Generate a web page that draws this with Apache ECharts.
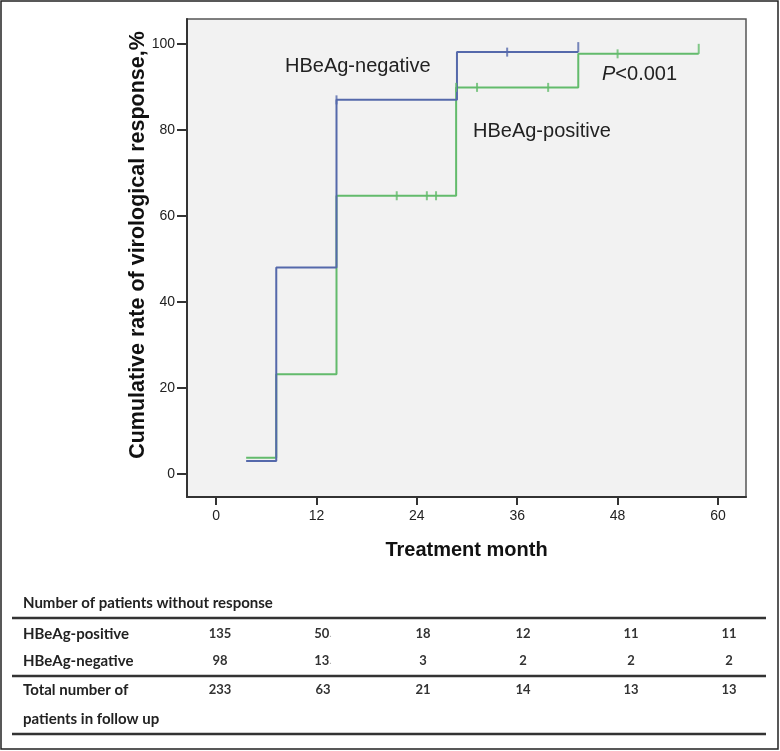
<!DOCTYPE html>
<html>
<head>
<meta charset="utf-8">
<script src="https://cdn.jsdelivr.net/npm/echarts@6/dist/echarts.min.js"></script>
<style>
  html, body { margin: 0; padding: 0; background: #ffffff; }
  #chart { width: 780px; height: 751px; }
</style>
</head>
<body>
<div id="chart"></div>
<script>
// ---- data ----
const xTickMonths = [0, 12, 24, 36, 48, 60];
const yTickValues = [0, 20, 40, 60, 80, 100];

// HBeAg-negative Kaplan–Meier steps
const negTimes = [3.6, 7.2, 14.4, 28.8, 43.3];
const negRates = [3.0, 48.0, 87.0, 98.1, 98.1];
const negCensorTimes = [14.4, 34.8];
const negCensorRates = [87.0, 98.1];
const negEndTimes = [43.3];
const negEndRates = [98.1];

// HBeAg-positive Kaplan–Meier steps
const posTimes = [3.6, 7.2, 14.4, 28.7, 43.3, 57.7];
const posRates = [3.8, 23.2, 64.7, 89.9, 97.7, 97.7];
const posCensorTimes = [21.6, 25.2, 26.3, 28.7, 31.2, 39.7, 48.0];
const posCensorRates = [64.7, 64.7, 64.7, 89.9, 89.9, 89.9, 97.7];
const posEndTimes = [57.7];
const posEndRates = [97.7];

// number-at-risk table
const tableTitle = 'Number of patients without response';
const rowLabels = ['HBeAg-positive', 'HBeAg-negative', 'Total number of'];
const rowLabelExtra = 'patients in follow up';
const posAtRisk = ['135', '50.', '18', '12', '11', '11'];
const negAtRisk = ['98', '13.', '3', '2', '2', '2'];
const totalAtRisk = ['233', '63', '21', '14', '13', '13'];

// ---- layout / style ----
const BLUE = '#5569ab';
const GREEN = '#63bb6c';
const AXIS = '#333333';
const FONT = '"Liberation Sans", Arial, sans-serif';
const TFONT = 'Lato, "Open Sans", sans-serif';
const colX = [220, 323, 423, 523, 631, 729];
const rowY = [634, 661, 690];

const zip = (a, b) => a.map((v, i) => [v, b[i]]);

const chart = echarts.init(document.getElementById('chart'), null, { renderer: 'canvas' });

function numText(s) {
  if (s.endsWith('.')) return s.slice(0, -1) + '{dot|.}';
  return s;
}

const graphics = [
  { type: 'rect', shape: { x: 1, y: 1, width: 777, height: 748 }, style: { fill: 'none', stroke: '#222', lineWidth: 1.5 }, silent: true },
  { type: 'text', x: 138, y: 245, rotation: Math.PI / 2,
    style: { text: 'Cumulative rate of virological response,%', font: 'bold 21.5px ' + FONT, fill: '#111',
             align: 'center', verticalAlign: 'middle' } },
  { type: 'text', left: 285, top: 56, style: { text: 'HBeAg-negative', font: '20px ' + FONT, fill: '#222' } },
  { type: 'text', left: 473, top: 121, style: { text: 'HBeAg-positive', font: '20px ' + FONT, fill: '#222' } },
  { type: 'text', left: 602, top: 64, style: { text: '{i|P}<0.001', font: '20px ' + FONT, fill: '#222',
      rich: { i: { fontStyle: 'italic', fontSize: 20, fontFamily: FONT, fill: '#222' } } } },
  { type: 'text', x: 23, y: 603, style: { text: tableTitle, font: 'bold 15px ' + TFONT, fill: '#222', verticalAlign: 'middle' } },
  { type: 'line', shape: { x1: 12, y1: 618, x2: 766, y2: 618 }, style: { stroke: '#333', lineWidth: 2.5 } },
  { type: 'line', shape: { x1: 12, y1: 676, x2: 766, y2: 676 }, style: { stroke: '#333', lineWidth: 2.5 } },
  { type: 'line', shape: { x1: 12, y1: 734, x2: 766, y2: 734 }, style: { stroke: '#333', lineWidth: 2.5 } },
  { type: 'text', x: 23, y: 719, style: { text: rowLabelExtra, font: 'bold 15px ' + TFONT, fill: '#222', verticalAlign: 'middle' } }
];
rowLabels.forEach((lab, r) => {
  graphics.push({ type: 'text', x: 23, y: rowY[r], style: { text: lab, font: 'bold 15px ' + TFONT, fill: '#222', verticalAlign: 'middle' } });
});
[posAtRisk, negAtRisk, totalAtRisk].forEach((row, r) => {
  row.forEach((v, c) => {
    graphics.push({ type: 'text', x: colX[c], y: rowY[r], style: {
      text: numText(v), font: 'bold 13px ' + TFONT, fill: '#333', align: 'center', verticalAlign: 'middle',
      rich: { dot: { fill: '#aaa', fontSize: 10, fontFamily: TFONT } } } });
  });
});

const option = {
  backgroundColor: '#ffffff',
  animation: false,
  grid: { left: 187, top: 19, width: 559, height: 478, show: true,
          backgroundColor: '#f2f2f2', borderColor: '#555', borderWidth: 1.5 },
  xAxis: {
    type: 'value', min: -3.47, max: 63.35,
    name: 'Treatment month', nameLocation: 'middle', nameGap: 43,
    nameTextStyle: { fontSize: 20, fontWeight: 'bold', color: '#111', fontFamily: FONT },
    splitLine: { show: false },
    axisLine: { show: true, onZero: false, lineStyle: { color: AXIS, width: 2 } },
    axisTick: { show: true, length: 8, customValues: xTickMonths, lineStyle: { color: AXIS, width: 2 } },
    axisLabel: { customValues: xTickMonths, margin: 12, fontSize: 14, color: '#222', fontFamily: FONT }
  },
  yAxis: {
    type: 'value', min: -5.35, max: 105.8,
    splitLine: { show: false },
    axisLine: { show: true, onZero: false, lineStyle: { color: AXIS, width: 2 } },
    axisTick: { show: true, length: 10, customValues: yTickValues, lineStyle: { color: AXIS, width: 2 } },
    axisLabel: { customValues: yTickValues, margin: 12, fontSize: 14, color: '#222', fontFamily: FONT }
  },
  series: [
    { name: 'HBeAg-positive', type: 'line', step: 'end', showSymbol: false, clip: false, z: 2,
      data: zip(posTimes, posRates), lineStyle: { color: GREEN, width: 2 }, itemStyle: { color: GREEN } },
    { name: 'HBeAg-negative', type: 'line', step: 'end', showSymbol: false, clip: false, z: 3,
      data: zip(negTimes, negRates), lineStyle: { color: BLUE, width: 2 }, itemStyle: { color: BLUE } },
    { type: 'scatter', symbol: 'rect', symbolSize: [2, 9], z: 4, clip: false,
      data: zip(posCensorTimes, posCensorRates), itemStyle: { color: GREEN } },
    { type: 'scatter', symbol: 'rect', symbolSize: [2, 10], symbolOffset: [0, -5], z: 4, clip: false,
      data: zip(posEndTimes, posEndRates), itemStyle: { color: GREEN } },
    { type: 'scatter', symbol: 'rect', symbolSize: [2, 9], z: 5, clip: false,
      data: zip(negCensorTimes, negCensorRates), itemStyle: { color: BLUE } },
    { type: 'scatter', symbol: 'rect', symbolSize: [2, 10], symbolOffset: [0, -5], z: 5, clip: false,
      data: zip(negEndTimes, negEndRates), itemStyle: { color: BLUE } }
  ],
  graphic: graphics
};
chart.setOption(option);
</script>
</body>
</html>
